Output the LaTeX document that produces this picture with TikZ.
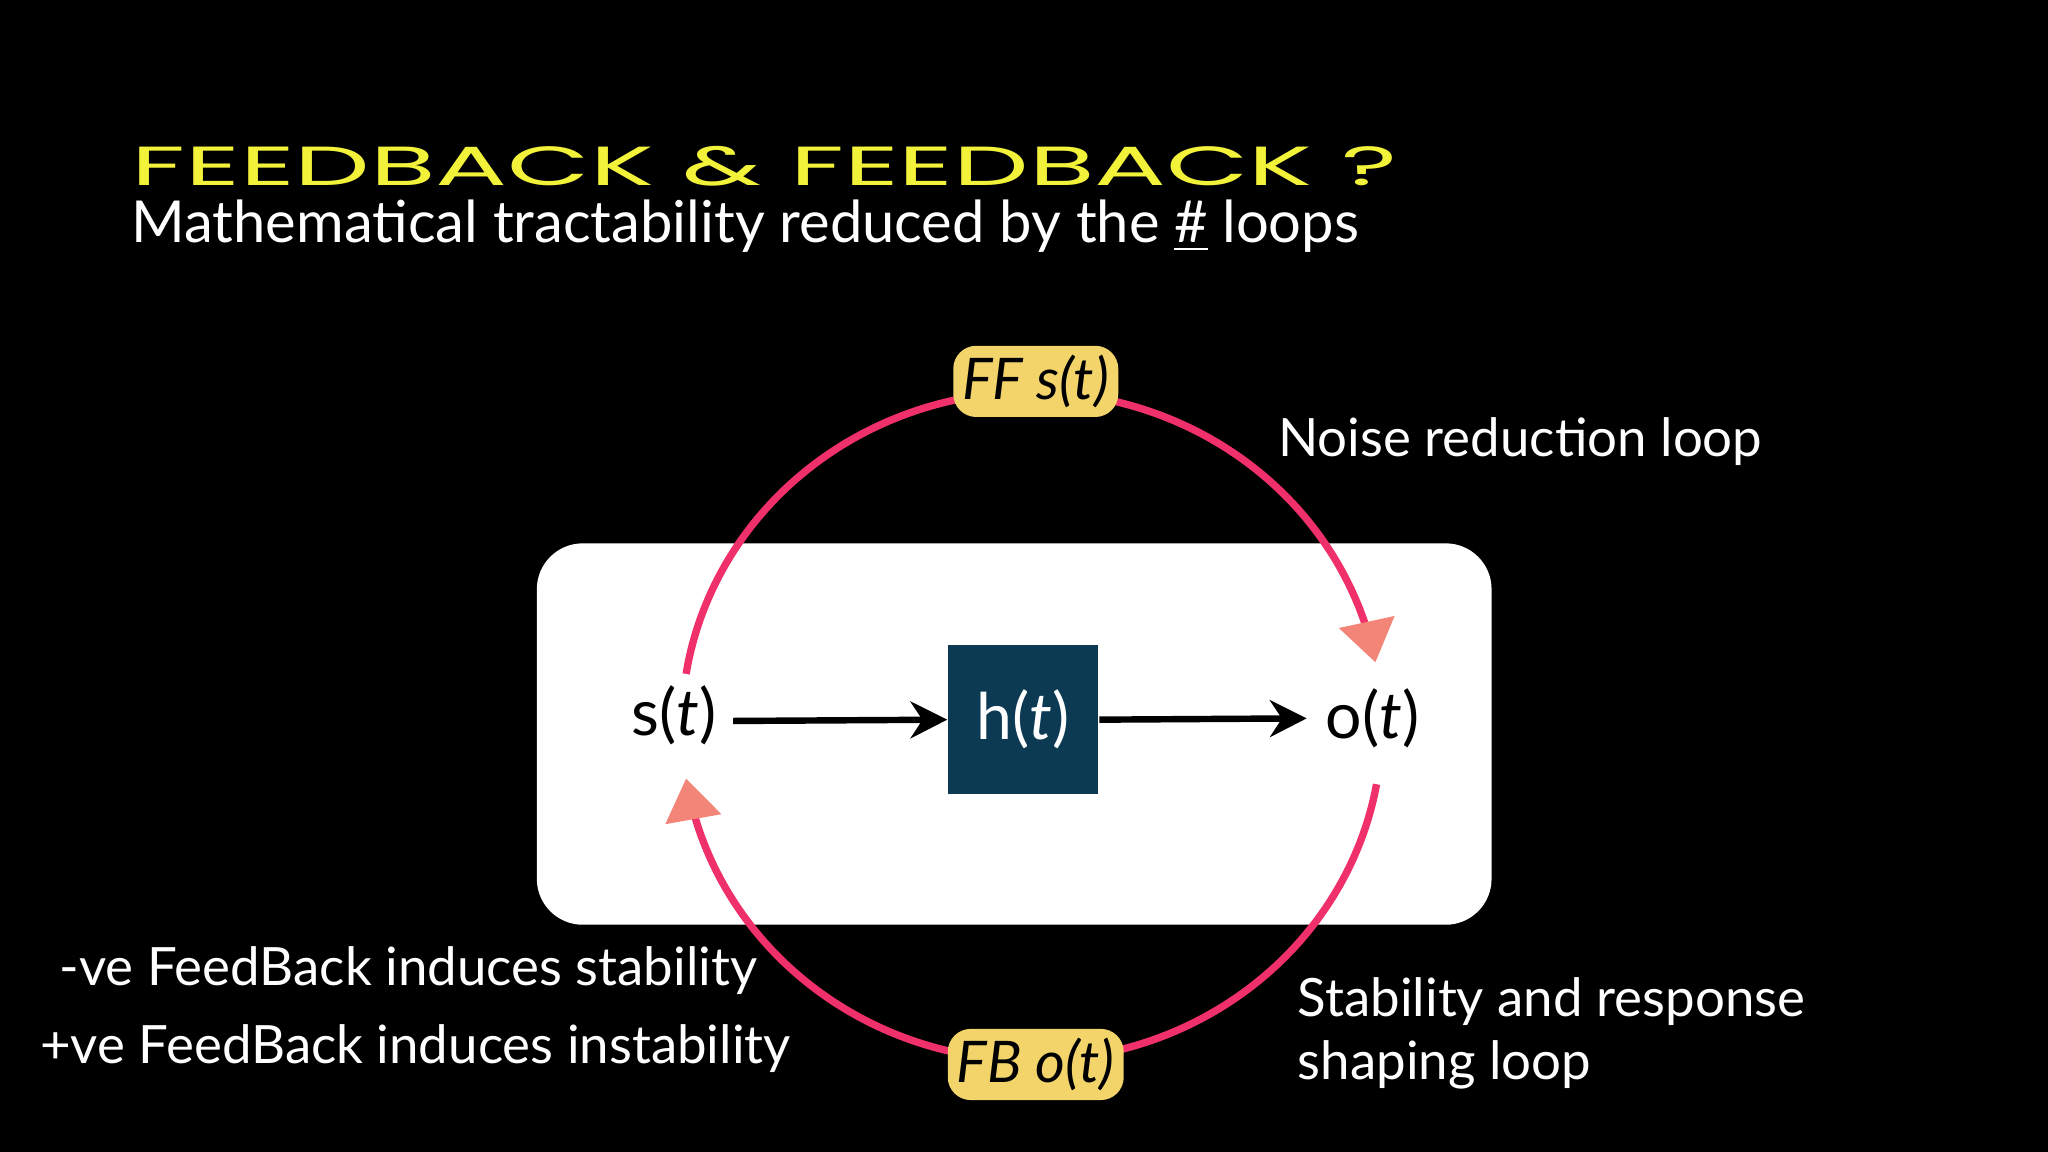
\documentclass[tikz,border=0pt]{standalone}
\usepackage{fontspec}
\setmainfont{Lato}
\newfontfamily\titlefont{Poppins}
\usetikzlibrary{arrows.meta,calc}
\definecolor{loopc}{HTML}{F0306A}
\definecolor{tipc}{HTML}{F28478}
\definecolor{tagc}{HTML}{F2D46A}
\definecolor{navy}{HTML}{0B3A52}
\definecolor{ttl}{HTML}{F2F23A}
\tikzset{
  wtxt/.style={text=white,anchor=west,inner sep=0pt,font=\fontsize{11.5}{14}\selectfont},
  lbl/.style={text=black,inner sep=0pt,font=\fontsize{14}{16}\selectfont},
  tag/.style={fill=tagc,rounded corners=5pt,text=black,inner sep=2pt,font=\fontsize{12.5}{14}\selectfont\itshape},
  loop/.style={draw=loopc,line width=1.6pt,-{Triangle[length=9pt,width=12pt,color=tipc]}},
  flow/.style={draw=black,line width=1.4pt,-{Stealth[length=8pt,width=8pt]}}
}
\begin{document}
\begin{tikzpicture}[x=0.01cm,y=-0.01cm]
\fill[black] (0,0) rectangle (1568,882);
\useasboundingbox (0,0) rectangle (1568,882);
\node[anchor=west,inner sep=0pt,text=ttl] (title) at (100,127) {\scalebox{1.55}[0.8]{\titlefont\fontsize{15}{17}\selectfont FEEDBACK \& FEEDBACK ?}};
\node[wtxt] (sub) at (100,173) {\fontsize{12.6}{15}\selectfont Mathematical tractability reduced by the \underline{\#} loops};
\fill[white,rounded corners=10pt] (411,416) rectangle (1142,708);
\node[fill=navy,minimum width=1.15cm,minimum height=1.14cm,text=white,font=\fontsize{14}{16}\selectfont] (h) at (783.5,551) {h(\textit{t})};
\node[lbl] (s) at (516,548) {s(\textit{t})};
\node[lbl] (o) at (1051,550) {o(\textit{t})};
\draw[flow] ($(s.east)+(12,4)$) -- (h.west);
\draw[flow] (h.east) -- ($(o.west)+(-14,0)$);
\draw[loop] plot[domain=171:11,samples=80,smooth] ({790+268*cos(\x)},{556-256*sin(\x)});
\draw[loop] plot[domain=-10:-171,samples=80,smooth] ({790+268*cos(\x)},{556-256*sin(\x)});
\node[tag] (ff) at (793,292) {FF s(t)};
\node[tag] (fb) at (793,815) {FB o(t)};
\node[wtxt] (n1) at (978,338) {Noise reduction loop};
\node[wtxt] (n2) at (993,767) {Stability and response};
\node[wtxt] (n3) at (993,815) {shaping loop};
\node[wtxt] (n4) at (45,743) {-ve FeedBack induces stability};
\node[wtxt] (n5) at (30,803) {+ve FeedBack induces instability};
\end{tikzpicture}
\end{document}
